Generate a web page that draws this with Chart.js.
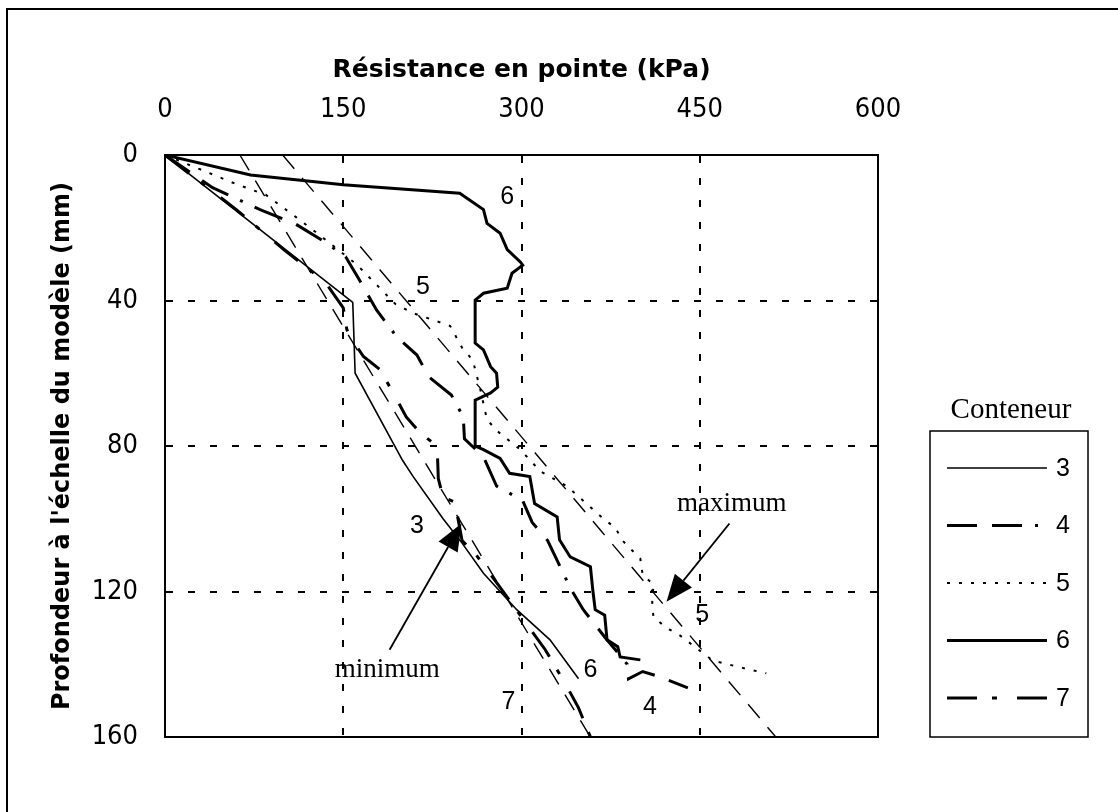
<!DOCTYPE html>
<html lang="fr">
<head>
<meta charset="utf-8">
<title>Résistance en pointe</title>
<script src="https://cdn.jsdelivr.net/npm/chart.js@4.4.1/dist/chart.umd.min.js"></script>
<style>
  html, body { margin: 0; padding: 0; background: #fff; overflow: hidden; }
  #wrap { position: relative; width: 1118px; height: 812px; overflow: hidden; }
  #frame { position: absolute; left: 6px; top: 8px; width: 1200px; height: 900px;
           border: 2px solid #000; box-sizing: border-box; pointer-events: none; }
  canvas { display: block; }
</style>
</head>
<body>
<div id="wrap">
  <canvas id="cpt-chart" width="1118" height="812"></canvas>
  <div id="frame"></div>
</div>
<script>
// --- données (résistance en kPa, profondeur en mm) ---
const containers = ["3", "4", "5", "6", "7"];

const c3Res   = [0, 158, 160, 200, 209, 234, 250, 268, 296, 324, 348];
const c3Depth = [0, 40.5, 60, 84, 88.5, 100, 106.7, 115, 125, 133.3, 144];

const c4Res   = [0, 40, 80, 110, 135, 152, 163, 178, 195, 212, 222, 241, 251, 252, 268, 279, 301, 309, 322, 341, 352, 370, 389, 390, 402, 417, 440];
const c4Depth = [0, 9, 15, 19, 24, 28, 34, 42.6, 50, 55, 61, 66, 72, 78, 83, 91, 95, 101, 106, 119, 125, 132.5, 140, 144, 142, 143.5, 146.5];

const c5Res   = [0, 30, 60, 85, 110, 130, 161, 170, 194, 209, 226, 240, 250, 259, 265, 271, 280, 299, 316, 338, 369, 379, 385, 400, 402, 411, 410, 411, 422, 433, 461, 486, 506];
const c5Depth = [0, 4, 8, 11, 17, 22, 30, 33, 41, 43.5, 45.4, 47, 53, 56.4, 64, 72.8, 76, 81, 87, 91, 100, 102.5, 106, 111, 115.5, 118, 123, 127, 130, 132, 139, 141, 142.5];

const c6Res   = [0, 72, 150, 248, 268, 271, 282, 288, 299, 301, 292, 288, 268, 261, 261, 268, 274, 279, 280, 274, 261, 261, 268, 282, 290, 307, 311, 330, 332, 341, 358, 360, 362, 370, 372, 381, 383, 400];
const c6Depth = [0, 5.5, 8.2, 10.5, 15, 18.8, 21.5, 26, 29.4, 30.3, 32.5, 36.6, 38, 39.9, 51.7, 53.6, 58.2, 60, 63.8, 65.4, 67.4, 80, 81, 83.4, 87.5, 88.4, 95.8, 99.5, 105.8, 110.5, 113.2, 119.6, 125, 126.5, 133.3, 135.2, 138, 138.8];

const c7Res   = [0, 20, 60, 100, 135, 150, 153, 160, 167, 181, 192, 203, 215, 229, 230, 234, 248, 246, 250, 262, 280, 300, 320, 338, 348, 358];
const c7Depth = [0, 5, 15, 26, 35, 42, 48, 52, 55.4, 59, 65.4, 72, 76.5, 80, 89, 94, 96, 99, 106, 110, 118, 127, 136, 146, 152, 160];

// droites enveloppes (minimum / maximum)
const minRes   = [63, 358];
const minDepth = [0, 160];
const maxRes   = [99, 514];
const maxDepth = [0, 160];

// étiquettes posées sur le graphique
const curveLabels     = ["6", "5", "3", "7", "5", "6", "4"];
const curveLabelRes   = [288, 217, 212, 289, 452, 358, 408];
const curveLabelDepth = [11.5, 36.3, 102, 150.4, 126.5, 141.6, 151.7];

const arrowLabels     = ["minimum", "maximum"];
const arrowLabelRes   = [187, 477];
const arrowLabelDepth = [141.6, 95.8];
const arrowTailRes    = [189, 475];
const arrowTailDepth  = [136, 101.3];
const arrowTipRes     = [249.5, 422];
const arrowTipDepth   = [101.3, 122.8];

const xTickStep = 150;
const yTickStep = 40;

// --- styles ---
const TICK_FONT  = '"Liberation Sans Narrow", "DejaVu Sans Condensed", "Liberation Sans", sans-serif';
const TITLE_FONT = '"DejaVu Sans", "Liberation Sans", sans-serif';
const LABEL_FONT = '"Liberation Sans", Arial, sans-serif';
const SERIF_FONT = '"Liberation Serif", "Times New Roman", serif';

function toPoints(res, depth) {
    return res.map((v, i) => ({ x: v, y: depth[i] }));
}

const seriesStyles = {
    "3": { width: 1.6, dash: [] },
    "4": { width: 3,   dash: [30, 15, 30, 13, 3, 13] },
    "5": { width: 2,   dash: [3, 9] },
    "6": { width: 3,   dash: [] },
    "7": { width: 3,   dash: [30, 15, 5, 20] }
};
const seriesData = {
    "3": toPoints(c3Res, c3Depth),
    "4": toPoints(c4Res, c4Depth),
    "5": toPoints(c5Res, c5Depth),
    "6": toPoints(c6Res, c6Depth),
    "7": toPoints(c7Res, c7Depth)
};

const datasets = containers.map(name => ({
    label: name,
    data: seriesData[name],
    showLine: true,
    borderColor: "#000",
    backgroundColor: "#000",
    borderWidth: seriesStyles[name].width,
    borderDash: seriesStyles[name].dash,
    pointRadius: 0,
    tension: 0,
    fill: false
}));
datasets.push({
    label: "minimum", data: toPoints(minRes, minDepth), showLine: true,
    borderColor: "#000", borderWidth: 1.4, borderDash: [18, 12], pointRadius: 0, inLegend: false
});
datasets.push({
    label: "maximum", data: toPoints(maxRes, maxDepth), showLine: true,
    borderColor: "#000", borderWidth: 1.4, borderDash: [18, 12], pointRadius: 0, inLegend: false
});

// --- plugins ---

/** cadre plein autour de la zone de tracé */
const plotFrame = {
    id: "plotFrame",
    afterDraw(chart) {
        const { ctx, chartArea: a } = chart;
        ctx.save();
        ctx.strokeStyle = "#000";
        ctx.lineWidth = 2;
        ctx.setLineDash([]);
        ctx.strokeRect(a.left, a.top, a.right - a.left, a.bottom - a.top);
        ctx.restore();
    }
};

/** étiquettes des courbes et flèches minimum / maximum */
const annotations = {
    id: "annotations",
    afterDatasetsDraw(chart) {
        const { ctx, scales: { x, y } } = chart;
        ctx.save();
        ctx.fillStyle = "#000";
        ctx.strokeStyle = "#000";
        ctx.textAlign = "center";
        ctx.textBaseline = "middle";
        ctx.font = "25px " + LABEL_FONT;
        curveLabels.forEach((t, i) => {
            ctx.fillText(t, x.getPixelForValue(curveLabelRes[i]), y.getPixelForValue(curveLabelDepth[i]));
        });
        ctx.font = "27px " + SERIF_FONT;
        arrowLabels.forEach((t, i) => {
            ctx.fillText(t, x.getPixelForValue(arrowLabelRes[i]), y.getPixelForValue(arrowLabelDepth[i]));
            const x0 = x.getPixelForValue(arrowTailRes[i]), y0 = y.getPixelForValue(arrowTailDepth[i]);
            const x1 = x.getPixelForValue(arrowTipRes[i]),  y1 = y.getPixelForValue(arrowTipDepth[i]);
            const ang = Math.atan2(y1 - y0, x1 - x0);
            const len = 27, half = 11;
            const bx = x1 - len * Math.cos(ang), by = y1 - len * Math.sin(ang);
            ctx.lineWidth = 1.8;
            ctx.setLineDash([]);
            ctx.beginPath();
            ctx.moveTo(x0, y0);
            ctx.lineTo(bx, by);
            ctx.stroke();
            ctx.beginPath();
            ctx.moveTo(x1, y1);
            ctx.lineTo(bx + half * Math.sin(ang), by - half * Math.cos(ang));
            ctx.lineTo(bx - half * Math.sin(ang), by + half * Math.cos(ang));
            ctx.closePath();
            ctx.fill();
        });
        ctx.restore();
    }
};

/** légende encadrée « Conteneur » à droite du graphique */
const legendBox = {
    id: "legendBox",
    afterDraw(chart) {
        const { ctx, chartArea: a } = chart;
        const left = a.right + 52, right = a.right + 210;
        const top = a.top + 276, bottom = a.bottom;
        ctx.save();
        ctx.fillStyle = "#000";
        ctx.strokeStyle = "#000";
        ctx.lineWidth = 1.5;
        ctx.setLineDash([]);
        ctx.strokeRect(left, top, right - left, bottom - top);
        ctx.textAlign = "center";
        ctx.textBaseline = "middle";
        ctx.font = "29px " + SERIF_FONT;
        ctx.fillText("Conteneur", (left + right) / 2 + 2, top - 21);

        ctx.font = "25px " + LABEL_FONT;
        const entries = chart.data.datasets.filter(ds => ds.inLegend !== false);
        entries.forEach((ds, i) => {
            const yy = top + 37 + i * 57.5;
            ctx.lineWidth = ds.borderWidth;
            ctx.setLineDash(ds.borderDash || []);
            ctx.beginPath();
            ctx.moveTo(left + 17, yy);
            ctx.lineTo(left + 117, yy);
            ctx.stroke();
            ctx.setLineDash([]);
            ctx.fillText(ds.label, left + 133, yy + 1);
        });
        ctx.restore();
    }
};

// --- graphique ---
const chart = new Chart(document.getElementById("cpt-chart").getContext("2d"), {
    type: "scatter",
    data: { datasets },
    options: {
        responsive: false,
        animation: false,
        layout: { padding: { left: 0, top: 0, right: 240, bottom: 75 } },
        plugins: {
            legend: { display: false },
            tooltip: { enabled: false }
        },
        scales: {
            x: {
                type: "linear",
                position: "top",
                min: 0,
                max: 600,
                afterFit: s => { s.height = 155; },
                ticks: {
                    stepSize: xTickStep,
                    padding: 29,
                    color: "#000",
                    font: { family: TICK_FONT, size: 27 }
                },
                grid: { color: "#000", lineWidth: 2, drawTicks: false },
                border: { display: true, color: "#000", width: 2, dash: [7, 15] },
                title: {
                    display: true,
                    text: "Résistance en pointe (kPa)",
                    color: "#000",
                    font: { family: TITLE_FONT, size: 25, weight: "bold" },
                    padding: { top: 55, bottom: 0 }
                }
            },
            y: {
                type: "linear",
                reverse: true,
                min: 0,
                max: 160,
                afterFit: s => { s.width = 165; },
                ticks: {
                    stepSize: yTickStep,
                    padding: 27,
                    color: "#000",
                    font: { family: TICK_FONT, size: 27 }
                },
                grid: { color: "#000", lineWidth: 2, drawTicks: false },
                border: { display: true, color: "#000", width: 2, dash: [7, 15] },
                title: {
                    display: true,
                    text: "Profondeur à l'échelle du modèle (mm)",
                    color: "#000",
                    font: { family: TITLE_FONT, size: 24, weight: "bold" },
                    padding: { top: 48, bottom: 0 }
                }
            }
        }
    },
    plugins: [plotFrame, annotations, legendBox]
});
</script>
</body>
</html>
